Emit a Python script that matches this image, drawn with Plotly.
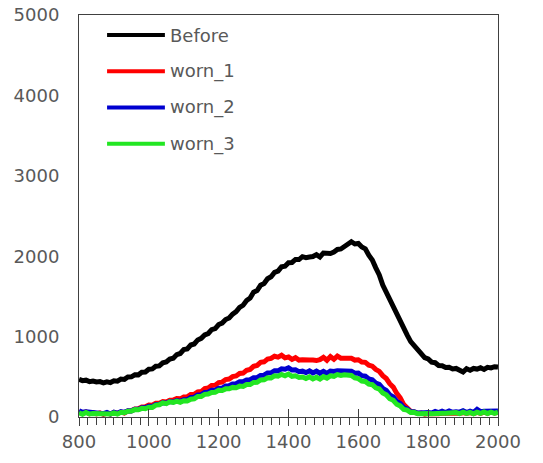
import plotly.graph_objects as go

# Wavelength grid (nm)
wavelength = list(range(800, 2001, 10))

series_names = ["Before", "worn_1", "worn_2", "worn_3"]
series_colors = ["#000000", "#ff0000", "#0000d0", "#22e622"]

before = [
    470, 452, 458, 440, 448, 436, 440, 424, 438, 428,
    450, 446, 472, 468, 498, 500, 525, 524, 556, 560,
    594, 598, 632, 636, 674, 684, 720, 732, 776, 790,
    838, 846, 895, 908, 958, 978, 1020, 1038, 1086, 1100,
    1150, 1168, 1212, 1232, 1280, 1310, 1362, 1390, 1448, 1480,
    1552, 1572, 1638, 1660, 1720, 1744, 1798, 1814, 1868, 1876,
    1920, 1922, 1960, 1958, 1994, 1982, 1990, 1996, 2020, 1990,
    2040, 2030, 2034, 2052, 2084, 2090, 2118, 2138, 2180, 2152,
    2158, 2114, 2092, 2012, 1952, 1855, 1768, 1642, 1552, 1438,
    1358, 1254, 1180, 1082, 1018, 938, 888, 822, 792, 738,
    722, 682, 675, 640, 638, 615, 618, 598, 604, 586,
    560, 600, 582, 604, 596, 612, 592, 618, 610, 626,
    622,
]

worn_1 = [
    68, 48, 62, 40, 55, 38, 52, 34, 48, 36,
    58, 44, 62, 50, 76, 78, 100, 104, 126, 128,
    148, 146, 170, 172, 192, 186, 208, 210, 230, 226,
    250, 250, 280, 282, 312, 316, 352, 360, 392, 396,
    428, 434, 466, 472, 502, 510, 542, 546, 580, 592,
    630, 642, 680, 686, 720, 728, 756, 744, 768, 736,
    746, 716, 738, 708, 712, 716, 708, 708, 702, 714,
    742, 706, 752, 718, 758, 732, 736, 736, 730, 708,
    712, 684, 680, 644, 632, 592, 568, 514, 478, 414,
    372, 294, 238, 154, 116, 70, 62, 44, 50, 36,
    44, 38, 42, 40, 46, 44, 52, 40, 50, 48,
    54, 44, 56, 42, 58, 46, 60, 46, 62, 50,
    58,
]

worn_2 = [
    78, 58, 64, 62, 58, 50, 54, 42, 56, 38,
    60, 46, 66, 58, 78, 76, 96, 96, 114, 114,
    132, 130, 156, 158, 178, 174, 192, 186, 204, 196,
    214, 216, 242, 246, 274, 278, 304, 308, 332, 334,
    358, 360, 386, 388, 412, 414, 438, 438, 462, 464,
    488, 490, 518, 520, 548, 550, 576, 574, 600, 594,
    612, 584, 586, 564, 570, 552, 574, 548, 570, 544,
    568, 542, 572, 566, 576, 572, 578, 570, 568, 544,
    546, 514, 508, 472, 462, 422, 406, 356, 330, 276,
    250, 194, 168, 116, 100, 66, 66, 50, 58, 54,
    56, 50, 68, 54, 72, 56, 76, 58, 64, 60,
    78, 56, 72, 58, 94, 66, 70, 68, 72, 74,
    76,
]

worn_3 = [
    52, 34, 56, 38, 42, 40, 36, 34, 38, 36,
    52, 36, 58, 54, 72, 74, 92, 90, 108, 104,
    122, 120, 148, 152, 176, 166, 188, 180, 198, 182,
    202, 200, 222, 226, 256, 256, 282, 286, 306, 308,
    332, 330, 350, 350, 368, 364, 384, 380, 404, 404,
    430, 432, 460, 462, 488, 486, 512, 508, 530, 512,
    534, 506, 512, 492, 498, 478, 500, 474, 494, 472,
    502, 484, 512, 506, 528, 518, 526, 516, 516, 486,
    478, 448, 442, 408, 402, 362, 348, 298, 276, 228,
    208, 158, 138, 94, 86, 56, 58, 40, 46, 38,
    44, 40, 46, 44, 48, 46, 52, 44, 56, 42,
    60, 44, 58, 40, 60, 46, 62, 44, 60, 46,
    60,
]

x_tick_values = [800, 1000, 1200, 1400, 1600, 1800, 2000]
y_tick_values = [0, 1000, 2000, 3000, 4000, 5000]

all_series = [before, worn_1, worn_2, worn_3]

text_color = "#595959"
frame_color = "#404040"
font_family = "DejaVu Sans"

fig = go.Figure()
for name, color, values in zip(series_names, series_colors, all_series):
    fig.add_trace(go.Scatter(
        x=wavelength, y=values, name=name, mode="lines",
        line=dict(color=color, width=5),
        showlegend=False,
    ))

# Hand-built legend in the upper-left corner of the plot area
legend_x0, legend_x1, legend_text_x = 0.067, 0.205, 0.212
legend_top, legend_step = 0.950, 0.090
for i, (name, color) in enumerate(zip(series_names, series_colors)):
    y = legend_top - i * legend_step
    fig.add_shape(type="line", xref="paper", yref="paper",
                  x0=legend_x0, x1=legend_x1, y0=y, y1=y,
                  line=dict(color=color, width=4))
    fig.add_annotation(xref="paper", yref="paper", x=legend_text_x, y=y,
                       text=name, showarrow=False, xanchor="left", yanchor="middle",
                       font=dict(family=font_family, size=18, color=text_color))

fig.update_layout(
    width=543, height=463, autosize=False,
    margin=dict(l=79, r=45, t=15, b=46, autoexpand=False),
    paper_bgcolor="white", plot_bgcolor="white",
    font=dict(family=font_family, size=18, color=text_color),
    xaxis=dict(
        range=[800, 2000], tickvals=x_tick_values, automargin=False,
        showgrid=False, zeroline=False,
        showline=True, mirror=True, linecolor=frame_color, linewidth=1,
        ticks="outside", ticklen=8, tickcolor=frame_color, tickwidth=1,
        minor=dict(dtick=25, tick0=800, ticks="outside", ticklen=7,
                   tickcolor=frame_color, tickwidth=1, showgrid=False),
        ticklabelstandoff=0,
        tickfont=dict(family=font_family, size=18, color=text_color),
    ),
    # Inner halves of the major x ticks
    xaxis2=dict(
        range=[800, 2000], tickvals=x_tick_values, overlaying="x", side="bottom",
        automargin=False,
        showgrid=False, zeroline=False, showline=False, showticklabels=False,
        ticks="inside", ticklen=8, tickcolor=frame_color, tickwidth=1,
    ),
    yaxis=dict(
        range=[0, 5000], tickvals=y_tick_values, automargin=False,
        showgrid=False, zeroline=False,
        showline=True, mirror=True, linecolor=frame_color, linewidth=1,
        ticks="", ticklabelstandoff=15,
        tickfont=dict(family=font_family, size=18, color=text_color),
    ),
)

# A hidden trace so the overlaid axis is drawn
fig.add_trace(go.Scatter(x=[800], y=[0], xaxis="x2", mode="markers",
                         marker=dict(opacity=0), showlegend=False, hoverinfo="skip"))

fig.write_html("out.html")
